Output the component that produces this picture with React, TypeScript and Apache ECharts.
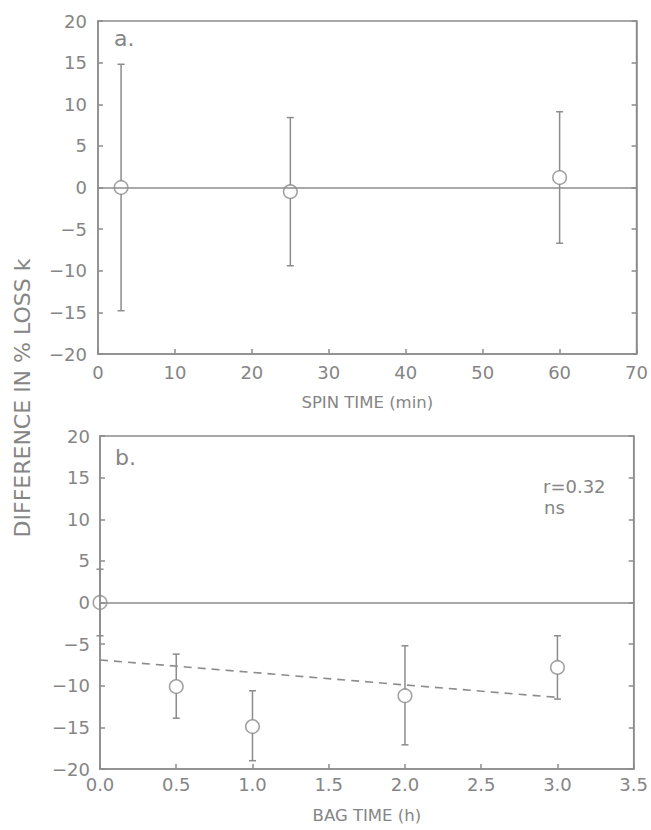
import React, { useEffect, useRef } from "react";
import * as echarts from "echarts";

const spinTime = [3, 25, 60];
const spinDiff = [0.0, -0.5, 1.2];
const spinLow = [-14.8, -9.4, -6.7];
const spinHigh = [14.8, 8.4, 9.1];

const bagTime = [0, 0.5, 1.0, 2.0, 3.0];
const bagDiff = [0.0, -10.1, -14.9, -11.2, -7.8];
const bagLow = [-4.0, -13.9, -19.0, -17.1, -11.6];
const bagHigh = [4.0, -6.2, -10.6, -5.2, -4.0];

const fitX = [0, 3.0];
const fitY = [-6.9, -11.4];

const yTicks = [-20, -15, -10, -5, 0, 5, 10, 15, 20];

const GRAY = "#8c8c8c";
const TXT = "#858585";
const FONT = "DejaVu Sans";
const LW = 1.5;

const fmtY = (v: number) => (v < 0 ? "\u2212" + Math.abs(v) : String(v));

function errRender(params: any, api: any) {
  const x = api.value(0);
  const y = api.value(1);
  const lo = api.value(2);
  const hi = api.value(3);
  const pc = api.coord([x, y]);
  const pl = api.coord([x, lo]);
  const ph = api.coord([x, hi]);
  const r = 6.5;
  const cap = 3.5;
  const st = { stroke: GRAY, lineWidth: LW };
  const children: any[] = [];
  if (ph[1] < pc[1] - r)
    children.push({ type: "line", shape: { x1: pc[0], y1: ph[1], x2: pc[0], y2: pc[1] - r }, style: st });
  if (pl[1] > pc[1] + r)
    children.push({ type: "line", shape: { x1: pc[0], y1: pc[1] + r, x2: pc[0], y2: pl[1] }, style: st });
  children.push({ type: "line", shape: { x1: pc[0] - cap, y1: ph[1], x2: pc[0] + cap, y2: ph[1] }, style: st });
  children.push({ type: "line", shape: { x1: pc[0] - cap, y1: pl[1], x2: pc[0] + cap, y2: pl[1] }, style: st });
  return { type: "group", children };
}

function makeYAxes(gridIndex: number) {
  const common = {
    gridIndex,
    type: "value",
    min: -20,
    max: 20,
    interval: 5,
    splitLine: { show: false },
    axisLine: { show: true, onZero: false, lineStyle: { color: GRAY, width: LW } },
    axisTick: { show: true, inside: true, length: 5, lineStyle: { color: GRAY, width: LW } },
  };
  return [
    {
      ...common,
      position: "left",
      axisLabel: {
        show: true,
        color: TXT,
        fontFamily: FONT,
        fontSize: 18,
        margin: gridIndex === 0 ? 11 : 10,
        formatter: fmtY,
        customValues: yTicks,
      },
    },
    {
      ...common,
      position: "right",
      axisLabel: { show: false },
    },
  ];
}

export default function App() {
  const ref = useRef<HTMLDivElement>(null);
  useEffect(() => {
    if (!ref.current) return;
    const chart = echarts.init(ref.current, null, { renderer: "svg" });
    const yAxes = [...makeYAxes(0), ...makeYAxes(1)];
    const option: any = {
      animation: false,
      backgroundColor: "#ffffff",
      grid: [
        { left: 98, top: 21, width: 539, height: 333, show: true, borderColor: GRAY, borderWidth: LW, backgroundColor: "transparent" },
        { left: 100, top: 436, width: 538, height: 333, show: true, borderColor: GRAY, borderWidth: LW, backgroundColor: "transparent" },
      ],
      xAxis: [
        {
          gridIndex: 0,
          type: "value",
          min: 0,
          max: 70,
          interval: 10,
          name: "SPIN TIME (min)",
          nameLocation: "middle",
          nameGap: 40,
          nameTextStyle: { color: TXT, fontFamily: FONT, fontSize: 16.5 },
          splitLine: { show: false },
          axisLine: { show: true, onZero: false, lineStyle: { color: GRAY, width: LW } },
          axisTick: { show: true, inside: true, length: 5, lineStyle: { color: GRAY, width: LW } },
          axisLabel: { color: TXT, fontFamily: FONT, fontSize: 18, margin: 9 },
        },
        {
          gridIndex: 1,
          type: "value",
          min: 0,
          max: 3.5,
          interval: 0.5,
          name: "BAG TIME (h)",
          nameLocation: "middle",
          nameGap: 38,
          nameTextStyle: { color: TXT, fontFamily: FONT, fontSize: 16.5 },
          splitLine: { show: false },
          axisLine: { show: true, onZero: false, lineStyle: { color: GRAY, width: LW } },
          axisTick: { show: true, inside: true, length: 5, lineStyle: { color: GRAY, width: LW } },
          axisLabel: { color: TXT, fontFamily: FONT, fontSize: 18, margin: 6, formatter: (v: number) => v.toFixed(1) },
        },
      ],
      yAxis: yAxes,
      graphic: [
        {
          type: "text",
          x: 22,
          y: 398,
          rotation: Math.PI / 2,
          style: { text: "DIFFERENCE IN % LOSS k", fill: TXT, font: `22px "${FONT}"`, textAlign: "center", textVerticalAlign: "middle" },
        },
        { type: "text", x: 114, y: 38, style: { text: "a.", fill: TXT, font: `22px "${FONT}"`, textVerticalAlign: "middle" } },
        { type: "text", x: 115, y: 457, style: { text: "b.", fill: TXT, font: `22px "${FONT}"`, textVerticalAlign: "middle" } },
        { type: "text", x: 543, y: 486, style: { text: "r=0.32", fill: TXT, font: `18px "${FONT}"`, textVerticalAlign: "middle" } },
        { type: "text", x: 544, y: 507, style: { text: "ns", fill: TXT, font: `18px "${FONT}"`, textVerticalAlign: "middle" } },
      ],
      series: [
        {
          type: "line",
          xAxisIndex: 0,
          yAxisIndex: 0,
          data: [],
          markLine: {
            silent: true,
            symbol: "none",
            label: { show: false },
            lineStyle: { color: GRAY, width: LW, type: "solid" },
            data: [{ yAxis: 0 }],
          },
        },
        {
          type: "line",
          xAxisIndex: 1,
          yAxisIndex: 2,
          data: [],
          markLine: {
            silent: true,
            symbol: "none",
            label: { show: false },
            lineStyle: { color: GRAY, width: LW, type: "solid" },
            data: [{ yAxis: 0 }],
          },
        },
        {
          type: "line",
          xAxisIndex: 1,
          yAxisIndex: 2,
          data: fitX.map((x, i) => [x, fitY[i]]),
          showSymbol: false,
          symbol: "none",
          lineStyle: { color: GRAY, width: 1.6, type: [8, 6] },
        },
        {
          type: "custom",
          xAxisIndex: 0,
          yAxisIndex: 0,
          clip: false,
          renderItem: errRender,
          data: spinTime.map((x, i) => [x, spinDiff[i], spinLow[i], spinHigh[i]]),
        },
        {
          type: "custom",
          xAxisIndex: 1,
          yAxisIndex: 2,
          clip: false,
          renderItem: errRender,
          data: bagTime.map((x, i) => [x, bagDiff[i], bagLow[i], bagHigh[i]]),
        },
        {
          type: "scatter",
          xAxisIndex: 0,
          yAxisIndex: 0,
          clip: false,
          symbol: "circle",
          symbolSize: 13.5,
          itemStyle: { color: "rgba(0,0,0,0)", borderColor: GRAY, borderWidth: 1.6 },
          data: spinTime.map((x, i) => [x, spinDiff[i]]),
        },
        {
          type: "scatter",
          xAxisIndex: 1,
          yAxisIndex: 2,
          clip: false,
          symbol: "circle",
          symbolSize: 13.5,
          itemStyle: { color: "rgba(0,0,0,0)", borderColor: GRAY, borderWidth: 1.6 },
          data: bagTime.map((x, i) => [x, bagDiff[i]]),
        },
      ],
    };
    chart.setOption(option);
    return () => chart.dispose();
  }, []);
  return <div ref={ref} style={{ position: "fixed", left: 0, top: 0, width: 651, height: 830 }} />;
}
